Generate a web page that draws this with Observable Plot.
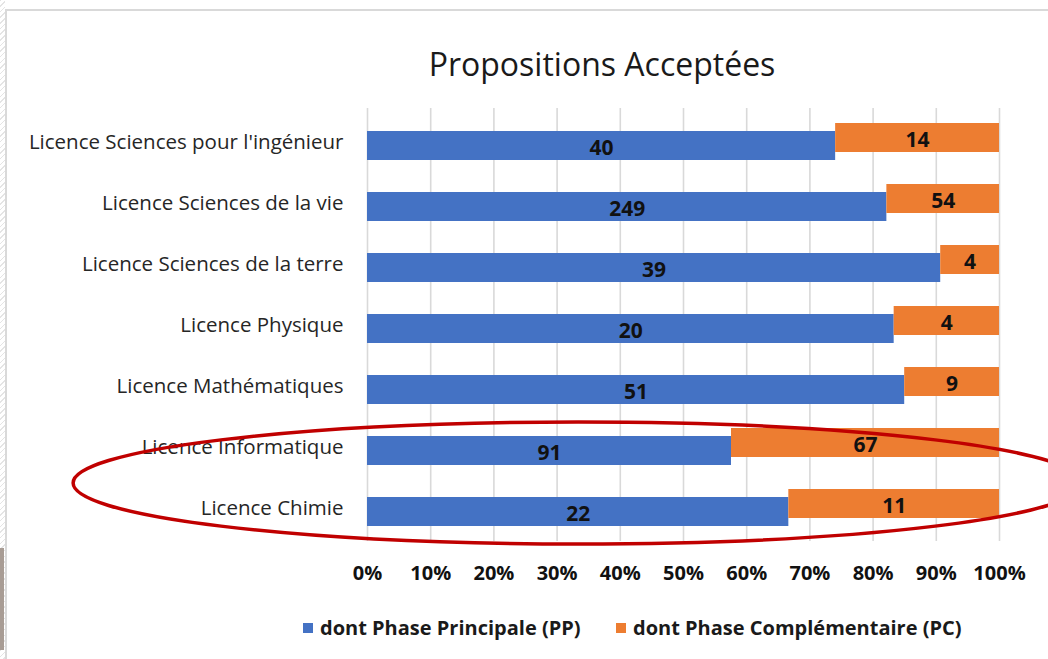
<!DOCTYPE html>
<html>
<head>
<meta charset="utf-8">
<script src="https://cdn.jsdelivr.net/npm/d3@7"></script>
<script src="https://cdn.jsdelivr.net/npm/@observablehq/plot@0.6"></script>
<style>
  html, body { margin: 0; padding: 0; background: #fff; }
  body { width: 1048px; height: 659px; overflow: hidden; position: relative; font-family: "Open Sans", sans-serif; }
  #hatch { position: absolute; left: 0; top: 0; width: 5px; height: 659px;
    background: repeating-linear-gradient(135deg, #e4e4e4 0 1px, #fff 1px 4px); }
  #brown { position: absolute; left: 0; top: 548px; width: 4px; height: 102px; background: #a89c94; }
  #frame { position: absolute; left: 5px; top: 9px; width: 1100px; height: 700px;
    border-top: 2px solid #d9d9d9; border-left: 2px solid #d9d9d9; }
  #title { position: relative; height: 104px; }
  #title span { position: absolute; left: 602px; top: 42px; transform: translateX(-50%);
    font-size: 32px; color: #1a1a1a; white-space: nowrap; }
  #chart { position: relative; height: 492px; }
  #legend { position: relative; height: 63px; }
  .item { position: absolute; top: 18px; display: flex; align-items: center;
    font-size: 20px; font-weight: bold; color: #1a1a1a; white-space: nowrap; }
  .sw { width: 10px; height: 10px; margin-right: 7px; }
</style>
</head>
<body>
<div id="hatch"></div>
<div id="brown"></div>
<div id="frame"></div>
<div id="title"><span>Propositions Acceptées</span></div>
<div id="chart"></div>
<div id="legend"></div>
<script>
// ---- data ----
const categories = [
  "Licence Sciences pour l'ingénieur",
  "Licence Sciences de la vie",
  "Licence Sciences de la terre",
  "Licence Physique",
  "Licence Mathématiques",
  "Licence Informatique",
  "Licence Chimie"
];
const ppValues = [40, 249, 39, 20, 51, 91, 22];
const pcValues = [14, 54, 4, 4, 9, 67, 11];
const seriesNames = ["dont Phase Principale (PP)", "dont Phase Complémentaire (PC)"];
const seriesColors = ["#4472C4", "#ED7D31"];
const xTicks = [0, 0.1, 0.2, 0.3, 0.4, 0.5, 0.6, 0.7, 0.8, 0.9, 1];
const highlighted = ["Licence Informatique", "Licence Chimie"];

const rows = categories.map((c, i) => {
  const total = ppValues[i] + pcValues[i];
  return { cat: c, pp: ppValues[i], pc: pcValues[i], f: ppValues[i] / total };
});

const plot = Plot.plot({
  width: 1048,
  height: 492,
  marginLeft: 367,
  marginRight: 49,
  marginTop: 4,
  marginBottom: 55,
  style: { fontFamily: "'Open Sans', sans-serif", fontSize: "20px", color: "#262626", background: "transparent", overflow: "visible" },
  x: { domain: [0, 1], ticks: xTicks, tickFormat: d3.format(".0%"), tickSize: 0, tickPadding: 24, label: null },
  y: { domain: categories, paddingInner: 0.52, paddingOuter: 0.26, tickSize: 0, tickPadding: 24, label: null },
  marks: [
    Plot.gridX(xTicks, { stroke: "#d9d9d9", strokeOpacity: 1, strokeWidth: 1.6 }),
    Plot.barX(rows, { y: "cat", x1: 0, x2: "f", fill: seriesColors[0], dy: 4 }),
    Plot.barX(rows, { y: "cat", x1: "f", x2: 1, fill: seriesColors[1], dy: -4 }),
    Plot.text(rows, { y: "cat", x: d => d.f / 2, text: d => String(d.pp), dy: 6, fontWeight: "bold", fontSize: 21, fill: "#111" }),
    Plot.text(rows, { y: "cat", x: d => (1 + d.f) / 2, text: d => String(d.pc), dy: -2, fontWeight: "bold", fontSize: 21, fill: "#111" })
  ]
});

// style axes
const svg = d3.select(plot);
svg.selectAll('[aria-label^="x-axis"] text').attr("font-weight", "bold").attr("font-size", 20).attr("fill", "#111");
svg.selectAll('[aria-label^="y-axis"] text').attr("font-size", 20.5).attr("fill", "#262626");

// highlight ellipse around the two highlighted categories
const xs = plot.scale("x"), ys = plot.scale("y");
const bw = ys.bandwidth || 0;
const c1 = ys.apply(highlighted[0]) + bw / 2;
const c2 = ys.apply(highlighted[1]) + bw / 2;
const ex1 = xs.apply(-0.465), ex2 = xs.apply(1.133);
svg.append("ellipse")
  .attr("cx", (ex1 + ex2) / 2)
  .attr("cy", (c1 + c2) / 2 + 6)
  .attr("rx", (ex2 - ex1) / 2)
  .attr("ry", (c2 - c1))
  .attr("fill", "none")
  .attr("stroke", "#C00000")
  .attr("stroke-width", 3.5);

document.getElementById("chart").appendChild(plot);

// legend
const legend = document.getElementById("legend");
const legendX = [303, 616];
seriesNames.forEach((name, i) => {
  const item = document.createElement("div");
  item.className = "item";
  item.style.left = legendX[i] + "px";
  const sw = document.createElement("span");
  sw.className = "sw";
  sw.style.background = seriesColors[i];
  item.appendChild(sw);
  item.appendChild(document.createTextNode(name));
  legend.appendChild(item);
});
</script>
</body>
</html>
